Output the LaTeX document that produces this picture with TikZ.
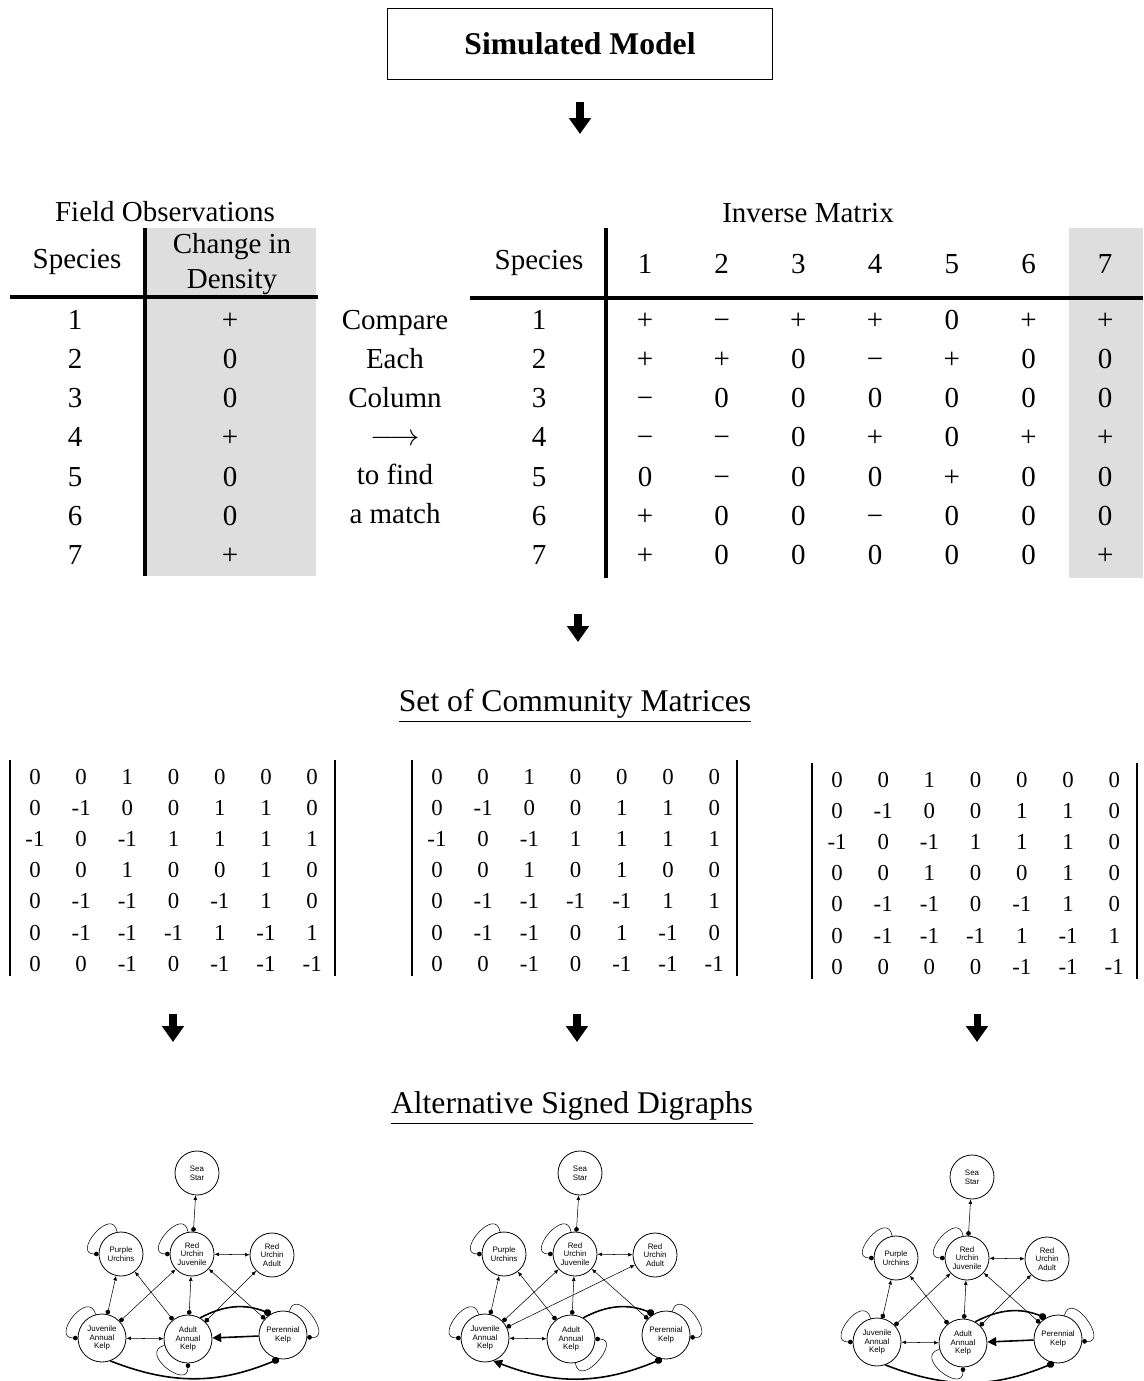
\documentclass[tikz,border=0pt]{standalone}
\usepackage{fontspec}
\setmainfont{Liberation Serif}
\setsansfont{Liberation Sans}
\usetikzlibrary{arrows.meta, positioning}

% one community matrix: name, left bar x, first row y, rows
\newcommand{\cmatrix}[4]{%
  \draw[mbar] (#2,{#3-16}) -- (#2,{#3+200});
  \draw[mbar] ({#2+325},{#3-16}) -- ({#2+325},{#3+200});
  \foreach \row [count=\r] in {#4} {
    \foreach \v [count=\c] in \row
      \node (#1-\r-\c) [entry] at ({#2+25+46.2*(\c-1)}, {#3+8+31.2*(\r-1)}) {\v};
  }
}

% nodes and links shared by the three digraphs
\newcommand{\kelpweb}{%
  \node (ss) [sp] at (0,0) {Sea\\Star};
  \node (pu) [sp] at (-76,81) {Purple\\Urchins};
  \node (ruj) [sp] at (-5,81) {Red\\Urchin\\Juvenile};
  \node (rua) [sp] at (75,82) {Red\\Urchin\\Adult};
  \node (jak) [kelp] at (-95,165) {Juvenile\\Annual\\Kelp};
  \node (aak) [kelp] at (-9,166) {Adult\\Annual\\Kelp};
  \node (pk) [kelp] at (86,162) {Perennial\\Kelp};
  \draw[link, ndot-parr] (ruj) -- (ss);
  \draw[link, parr-parr] (ruj) -- (rua);
  \draw[link, ndot-parr] (jak) -- (pu);
  \draw[link, ndot-parr] (jak) -- (ruj);
  \draw[link, ndot-parr] (aak) -- (pu);
  \draw[link, ndot-parr] (aak) -- (ruj);
  \draw[link, ndot-parr] (pk) -- (ruj);
  \draw[link, parr-parr] (jak) -- (aak);
  \draw[strong, -Ndot] (aak.60) to[bend left=25] (pk.120);
  \draw[link, -ndot] (pu.100) .. controls +(100:0.55cm) and +(180:0.55cm) .. (pu.180);
  \draw[link, -ndot] (ruj.100) .. controls +(100:0.55cm) and +(180:0.55cm) .. (ruj.180);
  \draw[link, -ndot] (jak.105) .. controls +(105:0.55cm) and +(180:0.55cm) .. (jak.180);
  \draw[link, -ndot] (pk.75) .. controls +(75:0.55cm) and +(-5:0.55cm) .. (pk.-5);
}

\begin{document}
\begin{tikzpicture}[x=0.02cm, y=-0.02cm]
\tikzstyle{heading} = [font=\fontsize{18}{21}\selectfont]
\tikzstyle{cell} = [font=\fontsize{16.5}{19}\selectfont, anchor=base, inner sep=0pt]
\tikzstyle{entry} = [font=\fontsize{13}{15}\selectfont, anchor=base, inner sep=0pt]
\tikzstyle{tabrule} = [line width=1.8pt]
\tikzstyle{mbar} = [line width=0.9pt]
\tikzstyle{downarr} = [line width=4pt, -{Triangle[length=9pt,width=12pt]}]
\tikzstyle{sp} = [circle, draw, line width=0.45pt, minimum size=0.88cm, inner sep=0pt, align=center, font=\sffamily\fontsize{4.5}{5}\selectfont]
\tikzstyle{kelp} = [sp, minimum size=0.96cm]
\tikzstyle{link} = [line width=0.3pt]
\tikzstyle{strong} = [line width=0.9pt]
\tikzset{ndot/.tip={Circle[length=2.6pt]}, parr/.tip={Latex[length=2.6pt,width=2.2pt]},
  Ndot/.tip={Circle[length=4pt]}, Parr/.tip={Triangle[length=5pt,width=5pt]}}

\useasboundingbox (0,0) rectangle (1143,1381);

% model
\node (model) [draw, line width=0.9pt, minimum width=7.7cm, minimum height=1.42cm, font=\bfseries\fontsize{18}{21}\selectfont] at (580,44) {Simulated Model};
\coordinate (a1) at (580,102);
\coordinate (a1e) at (580,134);
\draw[downarr] (a1) -- (a1e);

% field observations
\fill[black!13] (147,228) rectangle (316,576);
\node (fobs) [cell, anchor=center] at (165,212) {Field Observations};
\draw[tabrule] (145,228) -- (145,576);
\draw[tabrule] (10,297) -- (318,297);
\node (fsp) [cell, anchor=center] at (77,262) {Species};
\node (fchg) [cell, anchor=center, align=center, font=\fontsize{16.5}{19.5}\selectfont] at (232,264) {Change in\\Density};
\foreach \v [count=\r] in {+,0,0,+,0,0,+} {
  \node (fn\r) [cell] at (75, {330+39*(\r-1)}) {\r};
  \node (fv\r) [cell] at (230, {330+39*(\r-1)}) {\v};
}

\node (cmp) [cell, anchor=center, align=center, font=\fontsize{16.5}{22.1}\selectfont] at (395,417) {Compare\\Each\\Column\\$\longrightarrow$\\to find\\a match};

% inverse matrix
\fill[black!13] (1069,228) rectangle (1143,578);
\node (imat) [cell, anchor=center] at (808,213) {Inverse Matrix};
\draw[tabrule] (606,228) -- (606,578);
\draw[tabrule] (470,298) -- (1143,298);
\node (isp) [cell, anchor=center] at (539,263) {Species};
\foreach \c in {1,...,7}
  \node (ih\c) [cell] at ({645+76.7*(\c-1)}, 274) {\c};
\foreach \row [count=\r] in {{+,−,+,+,0,+,+},{+,+,0,−,+,0,0},{−,0,0,0,0,0,0},{−,−,0,+,0,+,+},{0,−,0,0,+,0,0},{+,0,0,−,0,0,0},{+,0,0,0,0,0,+}} {
  \node (in\r) [cell] at (539, {330+39*(\r-1)}) {\r};
  \foreach \v [count=\c] in \row
    \node (iv\r-\c) [cell] at ({645+76.7*(\c-1)}, {330+39*(\r-1)}) {\v};
}

\coordinate (a2) at (578,614);
\coordinate (a2e) at (578,642);
\draw[downarr] (a2) -- (a2e);

% community matrices
\node (cmtitle) [heading] at (575,706) {\underline{Set of Community Matrices}};
\cmatrix{ma}{10}{776}{{0,0,1,0,0,0,0},{0,-1,0,0,1,1,0},{-1,0,-1,1,1,1,1},{0,0,1,0,0,1,0},{0,-1,-1,0,-1,1,0},{0,-1,-1,-1,1,-1,1},{0,0,-1,0,-1,-1,-1}}
\cmatrix{mb}{412}{776}{{0,0,1,0,0,0,0},{0,-1,0,0,1,1,0},{-1,0,-1,1,1,1,1},{0,0,1,0,1,0,0},{0,-1,-1,-1,-1,1,1},{0,-1,-1,0,1,-1,0},{0,0,-1,0,-1,-1,-1}}
\cmatrix{mc}{812}{779}{{0,0,1,0,0,0,0},{0,-1,0,0,1,1,0},{-1,0,-1,1,1,1,0},{0,0,1,0,0,1,0},{0,-1,-1,0,-1,1,0},{0,-1,-1,-1,1,-1,1},{0,0,0,0,-1,-1,-1}}

\foreach \x [count=\i] in {173,577,977} {
  \coordinate (a3\i) at (\x,1014);
  \coordinate (a3\i e) at (\x,1042);
  \draw[downarr] (a3\i) -- (a3\i e);
}

% digraphs
\node (dgtitle) [heading] at (572,1108) {\underline{Alternative Signed Digraphs}};

\begin{scope}[shift={(197,1173)}, name prefix=ga-]
\kelpweb
\draw[link, ndot-parr] (aak) -- (rua);
\draw[strong, -Parr] (pk) -- (aak);
\draw[link, -ndot] (aak.195) .. controls +(195:0.55cm) and +(270:0.55cm) .. (aak.270);
\draw[strong, -Ndot] (jak.-70) to[bend right=22] (pk.-100);
\end{scope}

\begin{scope}[shift={(580,1173)}, name prefix=gb-]
\kelpweb
\draw[link, ndot-parr] (jak) -- (rua);
\draw[link, -ndot] (aak.-80) .. controls +(-80:0.55cm) and +(0:0.55cm) .. (aak.0);
\draw[strong, Parr-Ndot] (jak.-70) to[bend right=22] (pk.-100);
\end{scope}

\begin{scope}[shift={(972,1177)}, name prefix=gc-]
\kelpweb
\draw[link, ndot-parr] (aak) -- (rua);
\draw[strong, -Parr] (pk) -- (aak);
\draw[link, -ndot] (aak.195) .. controls +(195:0.55cm) and +(270:0.55cm) .. (aak.270);
\draw[strong, -Ndot] (jak.-70) to[bend right=22] (pk.-100);
\end{scope}

\end{tikzpicture}
\end{document}
